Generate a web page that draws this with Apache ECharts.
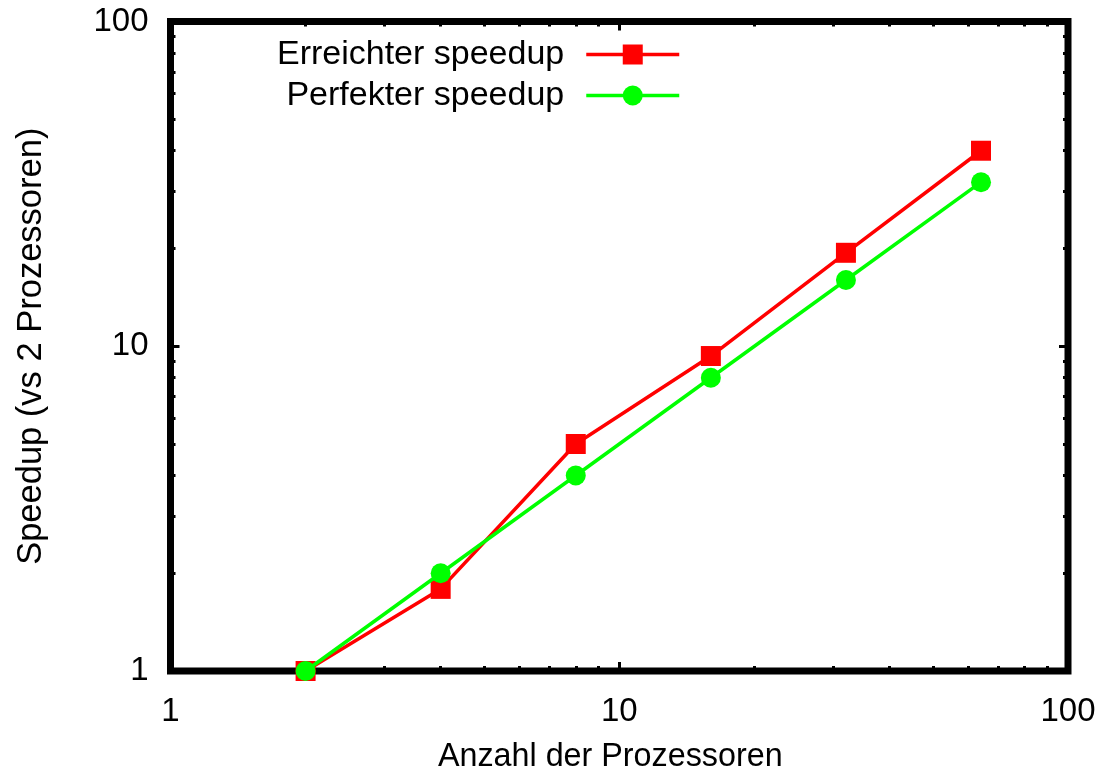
<!DOCTYPE html>
<html>
<head>
<meta charset="utf-8">
<script src="https://cdn.jsdelivr.net/npm/echarts@6/dist/echarts.min.js"></script>
<style>
html,body{margin:0;padding:0;background:#fff;}
#chart{width:1102px;height:775px;}
</style>
</head>
<body>
<div id="chart"></div>
<script>
// Data
const processors = [2, 4, 8, 16, 32, 64];
const achievedSpeedup = [1, 1.79, 5.0, 9.33, 19.4, 40];
const perfectSpeedup = [1, 2, 4, 8, 16, 32];
const seriesNames = ['Erreichter speedup', 'Perfekter speedup'];
const majorTicks = [1, 10, 100];
const minorTicks = [2, 3, 4, 5, 6, 7, 8, 9, 20, 30, 40, 50, 60, 70, 80, 90];
const xAxisTitle = 'Anzahl der Prozessoren';
const yAxisTitle = 'Speedup (vs 2 Prozessoren)';

const FONT = "'Liberation Sans', Arial, sans-serif";
const FS = 33;

function axis(dim, position, ticks, tickLen, withLabels, extra) {
  const a = {
    type: 'log',
    logBase: 10,
    min: 1,
    max: 100,
    position: position,
    gridIndex: 0,
    axisLine: { show: false },
    splitLine: { show: false },
    minorTick: { show: false },
    axisTick: {
      show: true,
      inside: true,
      length: tickLen,
      customValues: ticks,
      lineStyle: { color: '#000', width: 3 }
    },
    axisLabel: withLabels ? {
      show: true,
      customValues: majorTicks,
      color: '#000',
      fontFamily: FONT,
      fontSize: FS,
      margin: dim === 'x' ? 24 : 22,
      formatter: function (v) { return String(Math.round(v)); }
    } : { show: false }
  };
  return Object.assign(a, extra || {});
}

const chart = echarts.init(document.getElementById('chart'), null, { renderer: 'canvas' });

const option = {
  backgroundColor: '#ffffff',
  animation: false,
  grid: {
    left: 170.5,
    right: 34,
    top: 21.5,
    bottom: 104,
    show: true,
    borderColor: '#000',
    borderWidth: 7,
    backgroundColor: 'transparent',
    containLabel: false,
    outerBoundsMode: 'none'
  },
  legend: {
    show: true,
    orient: 'vertical',
    align: 'right',
    right: 416,
    top: 32.5,
    itemWidth: 93,
    itemHeight: 25,
    itemGap: 7,
    lineStyle: { width: 3.5 },
    textStyle: {
      color: '#000',
      fontFamily: FONT,
      fontSize: 34,
      padding: [0, 17, 0, 0]
    },
    data: seriesNames
  },
  xAxis: [
    axis('x', 'bottom', majorTicks, 9, true, {
      name: xAxisTitle,
      nameLocation: 'middle',
      nameGap: 70,
      nameTextStyle: { color: '#000', fontFamily: FONT, fontSize: 32.3, padding: [0, 18, 0, 0] }
    }),
    axis('x', 'bottom', minorTicks, 5, false),
    axis('x', 'top', majorTicks, 9, false),
    axis('x', 'top', minorTicks, 5, false)
  ],
  yAxis: [
    axis('y', 'left', majorTicks, 9, true, {
      name: yAxisTitle,
      nameLocation: 'middle',
      nameGap: 122,
      nameRotate: 90,
      nameTextStyle: { color: '#000', fontFamily: FONT, fontSize: 34.5 }
    }),
    axis('y', 'left', minorTicks, 5, false),
    axis('y', 'right', majorTicks, 9, false),
    axis('y', 'right', minorTicks, 5, false)
  ],
  series: [
    {
      name: seriesNames[0],
      type: 'line',
      xAxisIndex: 0,
      yAxisIndex: 0,
      clip: false,
      data: processors.map((p, i) => [p, achievedSpeedup[i]]),
      symbol: 'rect',
      symbolSize: 20,
      showAllSymbol: true,
      lineStyle: { color: '#ff0000', width: 3.5 },
      itemStyle: { color: '#ff0000' },
      emphasis: { disabled: true },
      z: 3
    },
    {
      name: seriesNames[1],
      type: 'line',
      xAxisIndex: 0,
      yAxisIndex: 0,
      clip: false,
      data: processors.map((p, i) => [p, perfectSpeedup[i]]),
      symbol: 'circle',
      symbolSize: 20,
      showAllSymbol: true,
      lineStyle: { color: '#00ff00', width: 3.5 },
      itemStyle: { color: '#00ff00' },
      emphasis: { disabled: true },
      z: 4
    }
  ]
};

chart.setOption(option);
</script>
</body>
</html>
